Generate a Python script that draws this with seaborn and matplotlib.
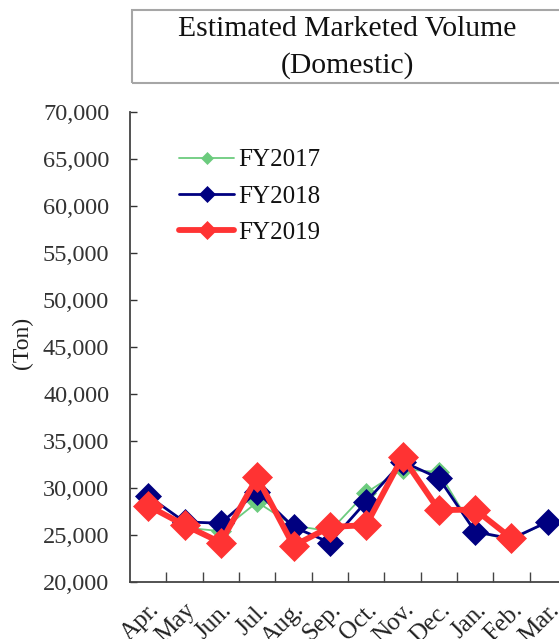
import numpy as np
import pandas as pd
import matplotlib
matplotlib.use("Agg")
import matplotlib.pyplot as plt
from matplotlib.patches import Rectangle
from matplotlib.ticker import FuncFormatter, FixedLocator
import seaborn as sns

months = ["Apr.", "May", "Jun.", "Jul.", "Aug.", "Sep.", "Oct.", "Nov.", "Dec.", "Jan.", "Feb.", "Mar."]
fy2017 = [28500, 25800, 25400, 28500, 26000, 25400, 29500, 32000, 31700, 25300, 24500, 26400]
fy2018 = [29150, 26400, 26250, 29600, 25850, 24200, 28550, 32800, 31050, 25350, 24600, 26400]
fy2019 = [28100, 26050, 24200, 31150, 23850, 25850, 26050, 33300, 27650, 27700, 24650, np.nan]

series_names = ["FY2017", "FY2018", "FY2019"]
series_values = [fy2017, fy2018, fy2019]
colors = {"FY2017": "#6CCB7E", "FY2018": "#000080", "FY2019": "#FF3333"}
widths = {"FY2017": 1.3, "FY2018": 2.0, "FY2019": 4.2}
msizes = {"FY2017": 10.5, "FY2018": 13.0, "FY2019": 15.0}

rows = []
for name, vals in zip(series_names, series_values):
    for i, (m, v) in enumerate(zip(months, vals)):
        rows.append({"pos": i, "month": m, "series": name, "volume": v})
df = pd.DataFrame(rows).dropna()

sns.set_theme(style="white")
plt.rcParams["font.family"] = ["Liberation Serif", "DejaVu Serif"]

fig = plt.figure(figsize=(5.59, 6.39), dpi=100)
ax = fig.add_axes([130 / 559, 57 / 639, 436 / 559, 470 / 639])

for name in series_names:
    sub = df[df["series"] == name]
    sns.lineplot(data=sub, x="pos", y="volume", ax=ax, color=colors[name],
                 linewidth=widths[name], marker="D", markersize=msizes[name],
                 markeredgecolor=colors[name], markeredgewidth=0.5,
                 label=name, sort=False, estimator=None)

ax.set_xlim(-0.5, 11.5)
ax.set_ylim(20000, 70000)
ax.set_yticks(np.arange(20000, 70001, 5000))
ax.yaxis.set_major_formatter(FuncFormatter(lambda v, p: f"{int(v):,}"))
ax.set_xticks(range(len(months)))
ax.set_xticklabels(months, rotation=45, ha="right", rotation_mode="anchor")
ax.xaxis.set_minor_locator(FixedLocator(np.arange(0.5, 11.5, 1.0)))
ax.set_xlabel("")
ax.set_ylabel("")

ax.tick_params(axis="y", which="major", direction="in", length=5, width=1.0,
               colors="#333333", labelsize=17.5, pad=15, left=True)
ax.tick_params(axis="x", which="major", length=0, labelsize=18, pad=12,
               labelcolor="#222222")
ax.tick_params(axis="x", which="minor", direction="in", length=7, width=1.0,
               color="#444444", bottom=True)

for side in ["top", "right"]:
    ax.spines[side].set_visible(False)
for side in ["left", "bottom"]:
    ax.spines[side].set_color("#444444")
    ax.spines[side].set_linewidth(1.3)

leg = ax.legend(loc="upper left", bbox_to_anchor=(179 / 559, 1 - 149 / 639),
                bbox_transform=fig.transFigure, frameon=False, fontsize=18,
                handlelength=2.2, handletextpad=0.15, labelspacing=0.55,
                markerscale=0.6, borderaxespad=0, borderpad=0)
for t in leg.get_texts():
    t.set_color("#111111")

fig.text(22 / 559, 1 - 343 / 639, "(Ton)", rotation=90, ha="center", va="center",
         fontsize=17, color="#222222")

fig.patches.append(Rectangle((132 / 559, 1 - 83 / 639), 440 / 559, 73 / 639,
                             transform=fig.transFigure, fill=False,
                             edgecolor="#A6A6A6", linewidth=1.5))
fig.text(347 / 559, 1 - 29 / 639, "Estimated Marketed Volume", ha="center",
         va="center", fontsize=21.3, color="#111111")
fig.text(347 / 559, 1 - 66 / 639, "(Domestic)", ha="center", va="center",
         fontsize=21.3, color="#111111")

fig.savefig("out.png", dpi=100)
